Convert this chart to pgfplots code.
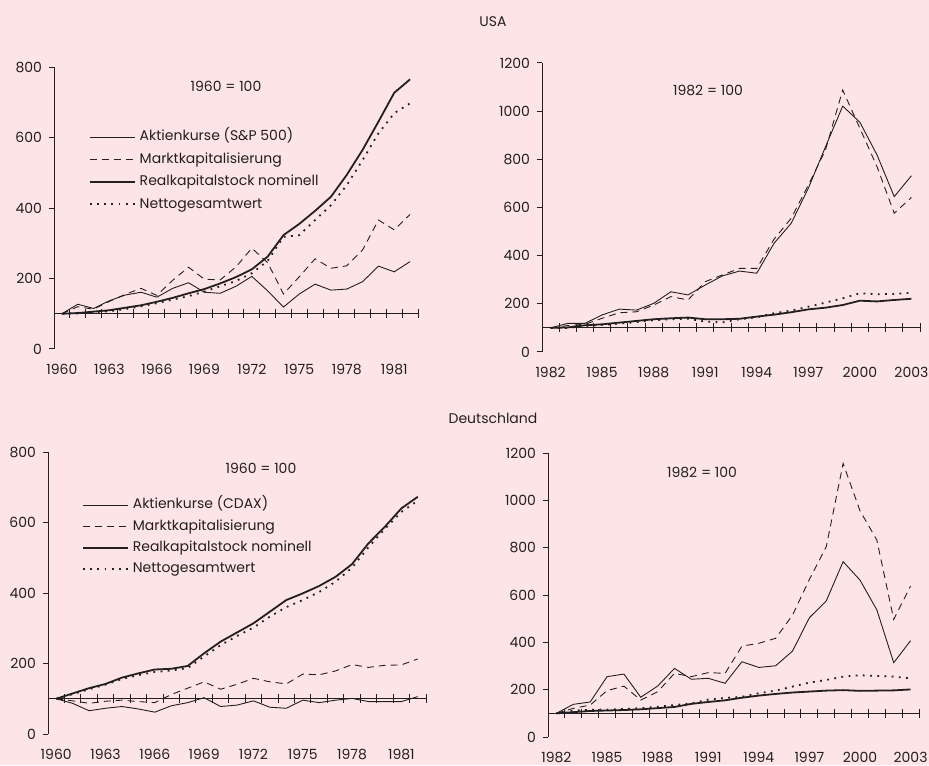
\documentclass[border=0pt]{standalone}
\usepackage{pgfplots}
\pgfplotsset{compat=1.18}
\usepackage{pgfplotstable}
\usepackage{fontspec}
\setmainfont{Poppins}
\definecolor{bg}{RGB}{253,228,231}
\definecolor{ink}{RGB}{35,31,32}

% USA 1960-1982 (1960 = 100)
\pgfplotstableread{
i akt mkt real net
0 100 100 100 100
1 127 120 102 101
2 115 113 106 104
3 137 135 110 107
4 153 155 117 113
5 161 172 124 121
6 147 152 134 130
7 172 195 145 140
8 188 232 158 150
9 161 198 170 163
10 158 196 186 178
11 178 233 204 193
12 206 286 226 215
13 165 245 262 250
14 119 156 323 318
15 156 205 355 323
16 184 256 392 366
17 167 229 432 408
18 170 236 494 465
19 191 281 565 536
20 235 366 645 612
21 219 338 727 669
22 248 382 765 697
}\usaA

% USA 1982-2003 (1982 = 100)
\pgfplotstableread{
i akt mkt real net
0 100 100 100 100
1 119 110 102 100
2 119 115 111 108
3 154 140 115 112
4 178 163 122 118
5 174 167 129 124
6 202 195 136 132
7 250 230 140 136
8 237 216 143 138
9 278 292 136 126
10 316 320 136 123
11 336 347 138 136
12 327 347 147 144
13 451 468 155 161
14 534 555 165 172
15 680 693 177 188
16 852 839 184 205
17 1021 1088 195 223
18 954 929 213 244
19 818 769 210 240
20 645 576 216 241
21 732 642 221 246
}\usaB

% Deutschland 1960-1982 (1960 = 100)
\pgfplotstableread{
i akt mkt real net
0 100 100 100 100
1 87 94 115 113
2 66 87 130 127
3 73 93 142 140
4 78 96 160 156
5 71 92 172 167
6 62 89 183 176
7 80 112 185 180
8 89 130 193 187
9 103 148 229 220
10 78 127 262 252
11 82 141 288 278
12 94 158 314 302
13 76 148 347 333
14 73 142 380 360
15 96 170 399 380
16 89 168 420 403
17 96 179 446 432
18 101 197 482 472
19 92 189 541 530
20 92 195 588 582
21 92 196 640 630
22 106 213 673 662
}\deA

% Deutschland 1982-2003 (1982 = 100)
\pgfplotstableread{
i akt mkt real net
0 100 100 100 100
1 138 121 105 112
2 148 135 110 115
3 255 196 112 116
4 266 215 114 118
5 168 156 117 122
6 215 191 122 128
7 290 269 127 135
8 244 255 140 142
9 248 272 148 158
10 227 269 155 165
11 318 384 166 170
12 294 396 175 185
13 301 417 182 196
14 363 515 188 213
15 504 666 192 230
16 575 804 196 241
17 741 1156 198 255
18 663 956 195 261
19 537 832 196 258
20 314 497 197 255
21 407 638 201 248
}\deB

\pgfplotsset{
  panel/.style={
    scale only axis, anchor=south west, clip=false,
    axis y line*=left, axis x line*=bottom,
    x axis line style={draw=none},
    y axis line style={ink, line width=0.5pt},
    xtick style={draw=none},
    ytick style={ink, line width=0.5pt},
    tick align=outside, major tick length=2.5pt,
    ymin=0,
    xtick={0,3,...,21},
    tick label style={font=\fontsize{7}{8}\selectfont, text=ink},
    xticklabel style={yshift=-1.5pt},
    /pgf/number format/assume math mode=true,
    /pgf/number format/1000 sep={},
    legend cell align=left,
    legend image code/.code={\draw[##1] (0pt,0pt) -- (22.5pt,0pt);},
    legend style={draw=none, fill=none, inner sep=0pt, outer sep=0pt,
      anchor=north west, column sep=2pt,
      font=\fontsize{7}{8}\selectfont, text=ink,
      nodes={inner sep=0pt, text height=5.4pt, text depth=1.6pt}},
  },
  early/.style={xmin=-0.5, xmax=22.5, ymax=800, ytick={0,200,...,800},
    xticklabels={1960,1963,1966,1969,1972,1975,1978,1981}},
  late/.style={xmin=-0.5, xmax=21.5, ymax=1200, ytick={0,200,...,1200},
    xticklabels={1982,1985,1988,1991,1994,1997,2000,2003}},
  akt/.style={ink, line width=0.45pt},
  mkt/.style={ink, line width=0.45pt, dash pattern=on 3.5pt off 2.5pt},
  real/.style={ink, line width=0.9pt},
  net/.style={ink, line width=0.9pt, dash pattern=on 0.9pt off 2.7pt},
  base/.style={ink, line width=0.5pt, forget plot},
  cross/.style={ink, only marks, mark=|, mark size=2.25pt,
    mark options={line width=0.5pt}, forget plot},
}

\begin{document}
\begin{tikzpicture}
\fill[bg] (0pt,0pt) rectangle (464.5pt,382.5pt);
\useasboundingbox (0pt,0pt) rectangle (464.5pt,382.5pt);

\node[font=\fontsize{7}{8}\selectfont, text=ink] at (246.5pt,371.5pt) {USA};
\node[font=\fontsize{7}{8}\selectfont, text=ink] at (246.5pt,173.5pt) {Deutschland};

% USA 1960-1982
\begin{axis}[panel, early, at={(27pt,208pt)}, width=182pt, height=141pt,
  legend style={at={(0.096,0.776)}, row sep=4.2pt}]
\addplot[base] coordinates {(-0.5,100) (22.5,100)};
\addplot[cross] coordinates {(0.5,100) (1.5,100) (2.5,100) (3.5,100) (4.5,100)
  (5.5,100) (6.5,100) (7.5,100) (8.5,100) (9.5,100) (10.5,100) (11.5,100)
  (12.5,100) (13.5,100) (14.5,100) (15.5,100) (16.5,100) (17.5,100)
  (18.5,100) (19.5,100) (20.5,100) (21.5,100) (22.5,100)};
\addplot[akt] table[x=i, y=akt] {\usaA};
\addlegendentry{Aktienkurse (S\&P 500)}
\addplot[mkt] table[x=i, y=mkt] {\usaA};
\addlegendentry{Marktkapitalisierung}
\addplot[real] table[x=i, y=real] {\usaA};
\addlegendentry{Realkapitalstock nominell}
\addplot[net] table[x=i, y=net] {\usaA};
\addlegendentry{Nettogesamtwert}
\end{axis}

% USA 1982-2003
\begin{axis}[panel, late, at={(271pt,206.5pt)}, width=189pt, height=144.5pt]
\addplot[base] coordinates {(-0.5,100) (21.5,100)};
\addplot[cross] coordinates {(0.5,100) (1.5,100) (2.5,100) (3.5,100) (4.5,100)
  (5.5,100) (6.5,100) (7.5,100) (8.5,100) (9.5,100) (10.5,100) (11.5,100)
  (12.5,100) (13.5,100) (14.5,100) (15.5,100) (16.5,100) (17.5,100)
  (18.5,100) (19.5,100) (20.5,100) (21.5,100)};
\addplot[akt] table[x=i, y=akt] {\usaB};
\addplot[mkt] table[x=i, y=mkt] {\usaB};
\addplot[real] table[x=i, y=real] {\usaB};
\addplot[net] table[x=i, y=net] {\usaB};
\end{axis}

% Deutschland 1960-1982
\begin{axis}[panel, early, at={(24pt,15.5pt)}, width=189pt, height=141pt,
  legend style={at={(0.09,0.837)}, row sep=3.7pt}]
\addplot[base] coordinates {(-0.5,100) (22.5,100)};
\addplot[cross] coordinates {(0.5,100) (1.5,100) (2.5,100) (3.5,100) (4.5,100)
  (5.5,100) (6.5,100) (7.5,100) (8.5,100) (9.5,100) (10.5,100) (11.5,100)
  (12.5,100) (13.5,100) (14.5,100) (15.5,100) (16.5,100) (17.5,100)
  (18.5,100) (19.5,100) (20.5,100) (21.5,100) (22.5,100)};
\addplot[akt] table[x=i, y=akt] {\deA};
\addlegendentry{Aktienkurse (CDAX)}
\addplot[mkt] table[x=i, y=mkt] {\deA};
\addlegendentry{Marktkapitalisierung}
\addplot[real] table[x=i, y=real] {\deA};
\addlegendentry{Realkapitalstock nominell}
\addplot[net] table[x=i, y=net] {\deA};
\addlegendentry{Nettogesamtwert}
\end{axis}

% Deutschland 1982-2003
\begin{axis}[panel, late, at={(274pt,14pt)}, width=185.5pt, height=142pt]
\addplot[base] coordinates {(-0.5,100) (21.5,100)};
\addplot[cross] coordinates {(0.5,100) (1.5,100) (2.5,100) (3.5,100) (4.5,100)
  (5.5,100) (6.5,100) (7.5,100) (8.5,100) (9.5,100) (10.5,100) (11.5,100)
  (12.5,100) (13.5,100) (14.5,100) (15.5,100) (16.5,100) (17.5,100)
  (18.5,100) (19.5,100) (20.5,100) (21.5,100)};
\addplot[akt] table[x=i, y=akt] {\deB};
\addplot[mkt] table[x=i, y=mkt] {\deB};
\addplot[real] table[x=i, y=real] {\deB};
\addplot[net] table[x=i, y=net] {\deB};
\end{axis}

\node[font=\fontsize{7}{8}\selectfont, text=ink] at (113pt,339.5pt) {1960 = 100};
\node[font=\fontsize{7}{8}\selectfont, text=ink] at (354pt,337.5pt) {1982 = 100};
\node[font=\fontsize{7}{8}\selectfont, text=ink] at (130.5pt,148.5pt) {1960 = 100};
\node[font=\fontsize{7}{8}\selectfont, text=ink] at (351pt,146.5pt) {1982 = 100};
\end{tikzpicture}
\end{document}
